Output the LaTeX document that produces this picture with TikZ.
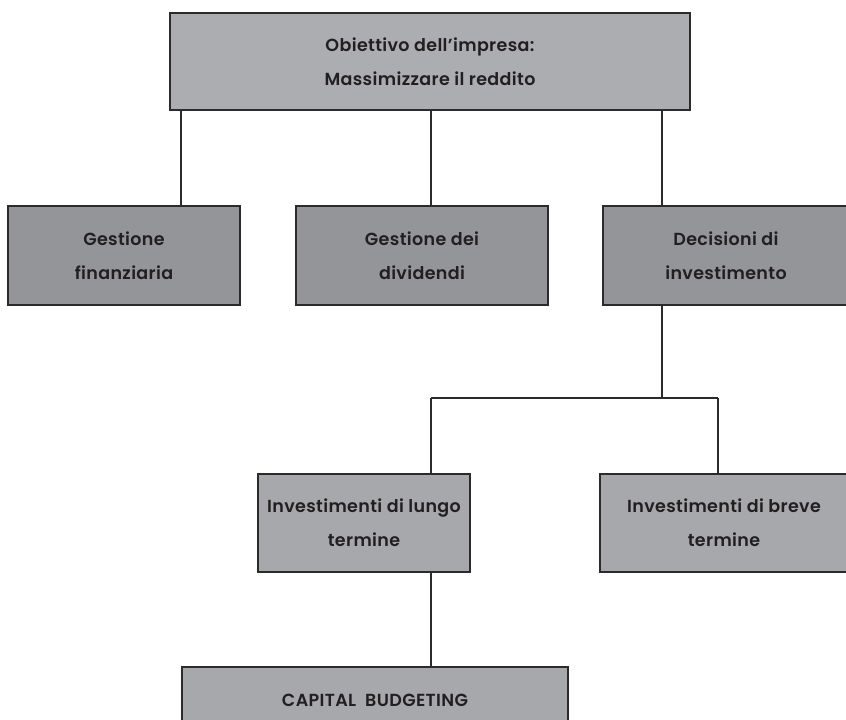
\documentclass[tikz,border=0pt]{standalone}
\usepackage{fontspec}
\setmainfont{Poppins}[UprightFont=* SemiBold, LetterSpace=2]
\definecolor{inktext}{HTML}{231F20}
\definecolor{boxedge}{HTML}{2B2B2B}
\definecolor{greytop}{HTML}{ACADB0}
\definecolor{greymid}{HTML}{939598}
\definecolor{greylow}{HTML}{A7A8AB}
\tikzset{
  block/.style={draw=boxedge, line width=1.5pt, align=center, text=inktext,
    font=\fontsize{17.5}{34}\selectfont, inner sep=0pt},
  link/.style={draw=boxedge, line width=1.2pt}
}
\begin{document}
\begin{tikzpicture}[x=1pt, y=1pt]
  \useasboundingbox (0,0) rectangle (846,-720);
  \clip (0,0) rectangle (846,-720);
  \node (obj) at (430,-61.5) [block, fill=greytop, minimum width=520pt, minimum height=97pt]
    {Obiettivo dell'impresa:\\Massimizzare il reddito};
  \node (div) [block, fill=greymid, minimum width=252pt, minimum height=99pt,
    below of=obj, node distance=194pt, xshift=-8pt] {Gestione dei\\dividendi};
  \node (fin) [block, fill=greymid, minimum width=232pt, minimum height=99pt,
    left of=div, node distance=298pt] {Gestione\\finanziaria};
  \node (inv) [block, fill=greymid, minimum width=246pt, minimum height=99pt,
    right of=div, node distance=304pt] {Decisioni di\\investimento};
  \node (lungo) [block, fill=greylow, minimum width=212pt, minimum height=98pt,
    below of=div, node distance=267.5pt, xshift=-58pt] {Investimenti di lungo\\termine};
  \node (breve) [block, fill=greylow, minimum width=248pt, minimum height=98pt,
    right of=lungo, node distance=360pt] {Investimenti di breve\\termine};
  \node (cb) [block, fill=greylow, minimum width=386pt, minimum height=66pt,
    below of=lungo, node distance=177pt, xshift=11pt] {CAPITAL\ \ BUDGETING};
  % fork points
  \coordinate (c1) at (181,0);
  \coordinate (c2) at (431,0);
  \coordinate (c3) at (662,0);
  \coordinate (c4) at (718,0);
  \coordinate (bar) at (0,-398);
  \path[link] (obj.south -| c1) edge (fin.north -| c1)
              (obj.south -| c2) edge (div.north -| c2)
              (obj.south -| c3) edge (inv.north -| c3)
              (inv.south -| c3) edge (bar -| c3)
              (bar -| c2) edge (bar -| c4)
              (bar -| c2) edge (lungo.north -| c2)
              (bar -| c4) edge (breve.north -| c4)
              (lungo.south -| c2) edge (cb.north -| c2)
              ;
\end{tikzpicture}
\end{document}
